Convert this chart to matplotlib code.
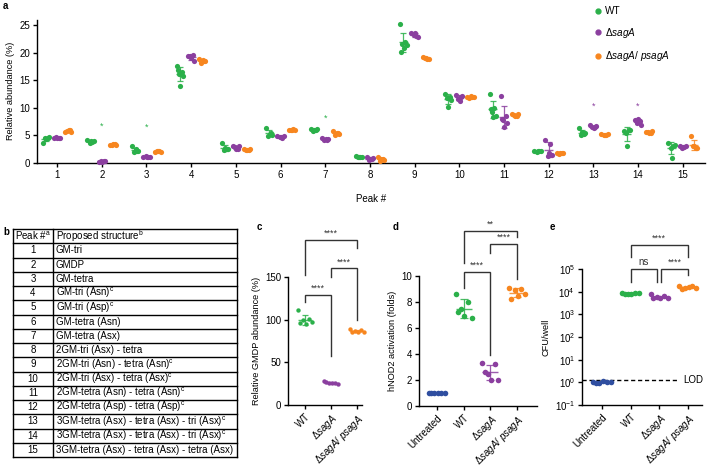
import numpy as np
import matplotlib
matplotlib.use('Agg')
import matplotlib.pyplot as plt
from matplotlib.lines import Line2D
from matplotlib.ticker import LogLocator, NullLocator

plt.rcParams['font.family'] = ['Liberation Sans', 'DejaVu Sans']
plt.rcParams['mathtext.fontset'] = 'custom'
plt.rcParams['mathtext.rm'] = 'Liberation Sans'
plt.rcParams['mathtext.it'] = 'Liberation Sans:italic'
plt.rcParams['mathtext.bf'] = 'Liberation Sans:bold'
plt.rcParams['font.size'] = 7
plt.rcParams['axes.labelsize'] = 6.6
plt.rcParams['axes.linewidth'] = 1.0
plt.rcParams['xtick.major.width'] = 1.0
plt.rcParams['ytick.major.width'] = 1.0
plt.rcParams['xtick.major.size'] = 3
plt.rcParams['ytick.major.size'] = 3
plt.rcParams['xtick.major.pad'] = 2
plt.rcParams['ytick.major.pad'] = 2

GREEN = '#2bb04a'
PURPLE = '#8b3f9f'
ORANGE = '#f7861f'
BLUE = '#2f4ea0'
DARK = '#333333'

# ---------------- data ----------------
# panel a: relative abundance (%) per peak, replicate values
peaks = list(range(1, 16))
wt_abund = [
    [3.7, 4.5, 4.6, 4.7, 4.4],
    [4.2, 3.8, 3.7, 4.0, 3.9],
    [3.0, 2.2, 2.0, 2.1, 2.5],
    [17.6, 16.5, 16.2, 15.8, 14.0, 16.8],
    [3.6, 2.5, 2.3, 2.6, 2.8],
    [6.4, 5.5, 4.9, 5.0, 5.3],
    [6.2, 6.0, 5.8, 6.1, 5.9],
    [1.2, 1.0, 1.1, 1.0, 1.1],
    [25.2, 22.0, 21.6, 21.4, 20.8, 20.2],
    [12.5, 12.0, 11.8, 11.5, 10.2],
    [12.5, 10.0, 9.2, 8.6, 8.3, 9.8],
    [2.2, 2.1, 2.0, 2.2, 2.1],
    [6.3, 5.2, 5.0, 5.4, 5.6],
    [5.8, 6.0, 5.5, 5.9, 3.1],
    [3.6, 3.0, 2.8, 3.2, 0.9],
]
sag_abund = [
    [4.5, 4.6, 4.7, 4.6, 4.5],
    [0.2, 0.3, 0.4, 0.3, 0.2],
    [1.0, 1.1, 1.2, 1.1, 1.0],
    [19.4, 19.5, 19.3, 18.5, 19.0],
    [3.1, 2.6, 2.9, 3.0, 2.5],
    [4.9, 4.6, 4.8, 4.9, 4.7],
    [4.5, 4.2, 4.1, 4.4, 4.3],
    [1.1, 0.7, 0.5, 0.9, 0.8],
    [23.5, 23.0, 23.2, 22.8, 23.6],
    [12.4, 12.0, 11.6, 12.2, 11.2],
    [12.2, 8.5, 7.8, 7.2, 6.5, 8.0],
    [4.2, 3.5, 1.2, 1.5, 1.8],
    [6.8, 6.6, 6.5, 6.7, 6.4],
    [7.8, 7.6, 7.2, 6.8, 8.0],
    [3.0, 2.9, 2.8, 3.0, 2.9],
]
comp_abund = [
    [5.7, 5.9, 5.8, 5.6, 5.9],
    [3.2, 3.4, 3.3, 3.2, 3.4],
    [2.0, 2.2, 2.1, 2.0, 2.2],
    [18.8, 18.5, 18.2, 18.4, 18.6],
    [2.5, 2.3, 2.4, 2.5, 2.3],
    [6.0, 6.1, 5.9, 6.0, 6.0],
    [5.8, 5.5, 5.0, 5.2, 5.4],
    [1.0, 0.7, 0.4, 0.6, 0.8],
    [19.2, 18.9, 19.0, 18.8, 19.1],
    [11.9, 12.0, 11.8, 11.9, 12.1],
    [8.8, 8.6, 8.7, 8.9, 8.5],
    [1.9, 1.8, 1.7, 1.8, 1.9],
    [5.2, 5.0, 5.1, 5.3, 5.0],
    [5.7, 5.5, 5.6, 5.8, 5.5],
    [4.9, 2.8, 3.0, 2.7, 3.1],
]
star_peaks = [2, 3, 7, 13, 14]
star_y = [6.6, 6.4, 8.1, 10.3, 10.3]
star_colors = [GREEN, GREEN, GREEN, PURPLE, PURPLE]

# panel b: table
table_peaks = [str(p) for p in range(1, 16)]
table_structures = [
    'GM-tri',
    'GMDP',
    'GM-tetra',
    'GM-tri (Asn)$^{\\rm c}$',
    'GM-tri (Asp)$^{\\rm c}$',
    'GM-tetra (Asn)',
    'GM-tetra (Asx)',
    '2GM-tri (Asx) - tetra',
    '2GM-tri (Asn) - tetra (Asn)$^{\\rm c}$',
    '2GM-tri (Asx) - tetra (Asx)$^{\\rm c}$',
    '2GM-tetra (Asn) - tetra (Asn)$^{\\rm c}$',
    '2GM-tetra (Asp) - tetra (Asp)$^{\\rm c}$',
    '3GM-tetra (Asx) - tetra (Asx) - tri (Asx)$^{\\rm c}$',
    '3GM-tetra (Asx) - tetra (Asx) - tri (Asx)$^{\\rm c}$',
    '3GM-tetra (Asx) - tetra (Asx) - tetra (Asx)',
]

# panel c: relative GMDP abundance (%)
c_labels = ['WT', 'Δ$\\mathit{sagA}$', 'Δ$\\mathit{sagA}$/ $\\mathit{psagA}$']
c_wt = [111, 101, 100, 97, 95, 96]
c_sag = [28, 26, 26, 25, 26, 27]
c_comp = [89, 88, 87, 86, 85, 86]
c_brackets = [(0, 1, 129, 121, 58, '****'),
              (1, 2, 160, 150, 100, '****'),
              (0, 2, 193, 152, 184, '****')]

# panel d: hNOD2 activation (folds)
d_labels = ['Untreated', 'WT', 'Δ$\\mathit{sagA}$', 'Δ$\\mathit{sagA}$/ $\\mathit{psagA}$']
d_untreated = [1.0, 0.98, 1.02, 0.97, 1.0, 1.03]
d_wt = [8.6, 8.0, 7.5, 6.8, 6.9, 7.2]
d_sag = [3.3, 3.2, 2.5, 2.0, 2.0, 2.6]
d_comp = [9.1, 9.0, 8.9, 8.6, 8.5, 8.2]
d_brackets = [(1, 2, 10.3, 9.1, 3.9, '****'),
              (2, 3, 12.5, 11.8, 9.8, '****'),
              (1, 3, 13.5, 11.0, 13.0, '**')]

# panel e: CFU/well
e_labels = d_labels
e_untreated = [1.0, 1.05, 0.95, 1.0, 1.1, 0.98]
e_wt = [9000, 8500, 8000, 8800, 7500, 8200]
e_sag = [8000, 6500, 6000, 5500, 5000, 5200]
e_comp = [18000, 17000, 15000, 14000, 16000, 13000]
e_lod = 1.3
e_brackets = [(1, 1.93, 1e5, 2.7e4, 2.7e4, 'ns'),
              (2.07, 3, 1e5, 2.7e4, 5.5e4, '****'),
              (1, 3, 1.15e6, 3.4e5, 3.4e5, '****')]

# ---------------- layout helpers ----------------
W, H = 708, 467
fig = plt.figure(figsize=(W / 100, H / 100), dpi=100)


def px_rect(x0, y0, x1, y1):
    return [x0 / W, 1 - y1 / H, (x1 - x0) / W, (y1 - y0) / H]


JIT = np.array([-1.0, 0.55, -0.3, 1.0, 0.1, -0.7])


def dots(ax, x, vals, color, spread, s, bar_w, cap, errbar=True):
    vals = np.asarray(vals, dtype=float)
    xs = x + JIT[:len(vals)] * spread
    ax.scatter(xs, vals, s=s, color=color, linewidths=0, zorder=3, clip_on=False)
    m = vals.mean()
    sd = vals.std(ddof=1)
    ax.hlines(m, x - bar_w, x + bar_w, color=color, lw=1.0, zorder=4, alpha=0.85)
    if errbar:
        ax.errorbar(x, m, yerr=sd, fmt='none', ecolor=color, elinewidth=0.9,
                    capsize=cap, capthick=0.9, zorder=4, alpha=0.85)


def bracket(ax, x1, x2, top, b1, b2, label, fs=6.5, off=1.5):
    ax.plot([x1, x1, x2, x2], [b1, top, top, b2], color=DARK, lw=1.0,
            clip_on=False, zorder=5, solid_joinstyle='miter')
    ax.annotate(label, ((x1 + x2) / 2, top), xytext=(0, off), textcoords='offset points',
                ha='center', va='bottom', fontsize=fs, color=DARK, annotation_clip=False)


def style(ax):
    for sp in ['top', 'right']:
        ax.spines[sp].set_visible(False)
    ax.tick_params(direction='out', colors='black')


# ---------------- panel a ----------------
ax = fig.add_axes(px_rect(37, 19.5, 705, 163))
style(ax)
groups = [(wt_abund, GREEN, -0.25), (sag_abund, PURPLE, 0.0), (comp_abund, ORANGE, 0.25)]
for vals_list, col, off in groups:
    for p, vals in zip(peaks, vals_list):
        dots(ax, p + off, vals, col, 0.07, 14, 0.1, 2)
for p, y, col in zip(star_peaks, star_y, star_colors):
    ax.text(p, y, '*', color=col, fontsize=6.5, ha='center', va='center')
ax.set_xlim(0.55, 15.5)
ax.set_ylim(0, 26)
ax.set_yticks([0, 5, 10, 15, 20, 25])
ax.set_xticks(peaks)
ax.set_ylabel('Relative abundance (%)', labelpad=3)
ax.set_xlabel('Peak #', labelpad=10, fontsize=7)

handles = [Line2D([], [], marker='o', ls='none', color=c, markersize=3.5)
           for c in (GREEN, PURPLE, ORANGE)]
fig.legend(handles, ['WT', 'Δ$\\mathit{sagA}$', 'Δ$\\mathit{sagA}$/ $\\mathit{psagA}$'],
           loc='upper left', bbox_to_anchor=(593 / W, 1 - 6 / H), frameon=False,
           fontsize=7.2, handletextpad=0.2, labelspacing=0.95, handlelength=1.0,
           borderaxespad=0, borderpad=0)

# ---------------- panel b (table) ----------------
tab = fig.add_axes([0, 0, 1, 1])
tab.set_xlim(0, W)
tab.set_ylim(H, 0)
tab.axis('off')
tab.patch.set_alpha(0)
row_h = 14.25
top_y = 229
n_rows = len(table_peaks) + 1
bottom_y = top_y + n_rows * row_h
for i in range(n_rows + 1):
    tab.plot([13, 237], [top_y + i * row_h] * 2, color='black', lw=1.0)
for xv in (13, 53, 237):
    tab.plot([xv, xv], [top_y, bottom_y], color='black', lw=1.0)
tab.text(33, top_y + row_h / 2, 'Peak #$^{\\rm a}$', ha='center', va='center', fontsize=7)
tab.text(56, top_y + row_h / 2, 'Proposed structure$^{\\rm b}$', ha='left', va='center', fontsize=7)
for i, (pk, st) in enumerate(zip(table_peaks, table_structures)):
    yc = top_y + (i + 1.5) * row_h
    tab.text(33, yc, pk, ha='center', va='center', fontsize=7)
    tab.text(56, yc, st, ha='left', va='center', fontsize=7)

# ---------------- panel c ----------------
axc = fig.add_axes(px_rect(288, 277, 362, 405))
style(axc)
for i, (vals, col) in enumerate([(c_wt, GREEN), (c_sag, PURPLE), (c_comp, ORANGE)]):
    dots(axc, i, vals, col, 0.27, 10, 0.28, 2.5)
for b in c_brackets:
    bracket(axc, *b)
axc.set_xlim(-0.65, 2.2)
axc.set_ylim(0, 150)
axc.set_yticks([0, 50, 100, 150])
axc.set_xticks(range(3))
axc.set_xticklabels(c_labels, rotation=45, ha='right', rotation_mode='anchor')
axc.set_ylabel('Relative GMDP abundance (%)', labelpad=3)

# ---------------- panel d ----------------
axd = fig.add_axes(px_rect(419, 276, 537, 406))
style(axd)
for i, (vals, col) in enumerate([(d_untreated, BLUE), (d_wt, GREEN), (d_sag, PURPLE), (d_comp, ORANGE)]):
    dots(axd, i, vals, col, 0.3, 16, 0.3, 3)
for b in d_brackets:
    bracket(axd, *b)
axd.set_xlim(-0.67, 3.75)
axd.set_ylim(0, 10)
axd.set_yticks([0, 2, 4, 6, 8, 10])
axd.set_xticks(range(4))
axd.set_xticklabels(d_labels, rotation=45, ha='right', rotation_mode='anchor')
axd.set_ylabel('hNOD2 activation (folds)', labelpad=3)

# ---------------- panel e ----------------
axe = fig.add_axes(px_rect(582, 269, 702, 405))
style(axe)
axe.set_yscale('log')
for i, (vals, col) in enumerate([(e_untreated, BLUE), (e_wt, GREEN), (e_sag, PURPLE), (e_comp, ORANGE)]):
    dots(axe, i, vals, col, 0.3, 16, 0.3, 3, errbar=False)
for x1, x2, top, b1, b2, lab in e_brackets:
    if lab == 'ns':
        bracket(axe, x1, x2, top, b1, b2, lab, fs=7, off=1.5)
    else:
        bracket(axe, x1, x2, top, b1, b2, lab)
axe.plot([-0.7, 2.7], [e_lod, e_lod], ls=(0, (3, 2)), color='black', lw=1.0, clip_on=False)
axe.text(2.85, e_lod, 'LOD', ha='left', va='center', fontsize=7)
axe.set_xlim(-0.7, 3.5)
axe.set_ylim(0.1, 1e5)
axe.yaxis.set_major_locator(LogLocator(base=10, numticks=10))
axe.yaxis.set_minor_locator(NullLocator())
axe.set_xticks(range(4))
axe.set_xticklabels(e_labels, rotation=45, ha='right', rotation_mode='anchor')
axe.set_ylabel('CFU/well', labelpad=3)

# ---------------- panel letters ----------------
for lab, x, y in [('a', 3, 6), ('b', 3, 232), ('c', 257, 227), ('d', 393, 227), ('e', 550, 227)]:
    fig.text(x / W, 1 - y / H, lab, fontsize=7, fontweight='bold', ha='left', va='center')

fig.savefig('out.png', dpi=100)
